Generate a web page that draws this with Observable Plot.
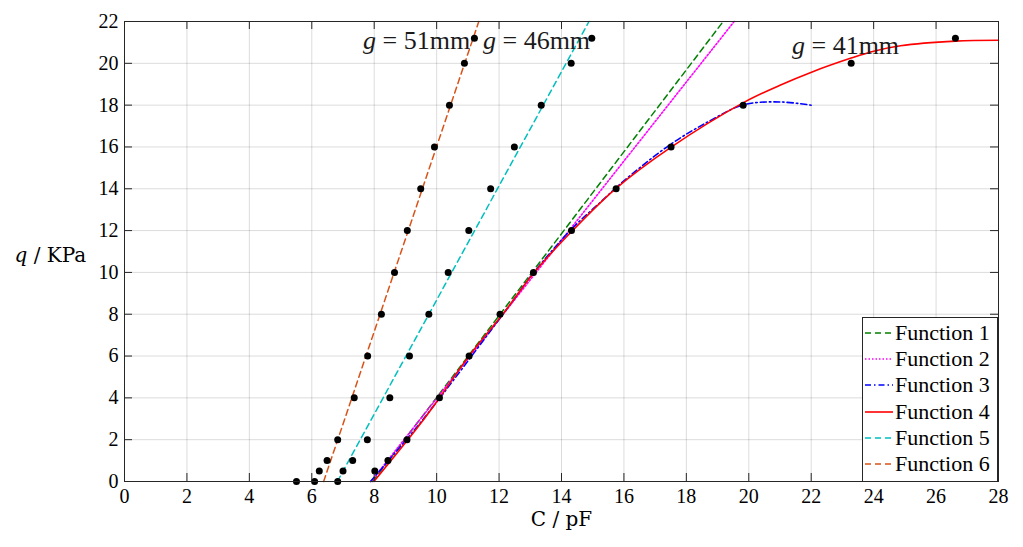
<!DOCTYPE html>
<html><head><meta charset="utf-8">
<script src="https://cdn.jsdelivr.net/npm/d3@7"></script>
<script src="https://cdn.jsdelivr.net/npm/@observablehq/plot@0.6"></script>
<style>
body{margin:0;background:#fff;}
#wrap{position:relative;width:1023px;height:547px;}
.legend{position:absolute;left:862px;top:317px;width:136px;height:165px;border:1px solid #262626;background:#fff;box-sizing:border-box;font-family:"Liberation Serif",serif;font-size:22px;color:#000;padding-top:2px;}
.row{display:flex;align-items:center;height:26.2px;white-space:nowrap;}
.row svg{margin-left:2px;margin-right:2px;flex:none;}
</style></head><body><div id="wrap"></div>
<script>
// ---- tick values ----
const xTicks = [0, 2, 4, 6, 8, 10, 12, 14, 16, 18, 20, 22, 24, 26, 28];
const yTicks = [0, 2, 4, 6, 8, 10, 12, 14, 16, 18, 20, 22];

// ---- measured points ----
const c51 = [5.51, 6.24, 6.49, 6.83, 7.36, 7.79, 8.23, 8.65, 9.06, 9.49, 9.93, 10.41, 10.89, 11.21];
const q51 = [0, 0.5, 1, 2, 4, 6, 8, 10, 12, 14, 16, 18, 20, 21.2];
const c46 = [6.09, 7.0, 7.31, 7.78, 8.50, 9.13, 9.75, 10.37, 11.03, 11.73, 12.49, 13.35, 14.31, 14.97];
const q46 = [0, 0.5, 1, 2, 4, 6, 8, 10, 12, 14, 16, 18, 20, 21.2];
const c41 = [6.83, 8.02, 8.44, 9.05, 10.09, 11.04, 12.03, 13.1, 14.32, 15.75, 17.51, 19.82, 23.28, 26.62];
const q41 = [0, 0.5, 1, 2, 4, 6, 8, 10, 12, 14, 16, 18, 20, 21.2];

// ---- fitted functions ----
const f1C = [7.95, 19.18];            const f1Q = [0, 22];
const f2C = [7.9, 19.53];             const f2Q = [0, 22];
const f3C = [7.88, 9.5, 12.2, 13.1, 14.34, 15.25, 15.89, 17.49, 18.78, 19.84, 21.02, 22.03];
const f3Q = [0, 2.85, 8.15, 9.97, 12.1, 13.36, 14.24, 16.12, 17.27, 18.02, 18.15, 17.99];
const f4C = [7.99, 9.48, 10.09, 11.04, 12.21, 13.11, 14.34, 15.73, 17.49, 19.83, 21.0, 22.05, 23.28, 24.0, 24.86, 26.62, 28];
const f4Q = [0, 2.76, 4.0, 6.0, 8.18, 9.97, 11.98, 14.0, 15.97, 18.12, 18.95, 19.6, 20.25, 20.58, 20.84, 21.06, 21.1];
const f5C = [6.82, 14.88];            const f5Q = [0, 22];
const f6C = [6.38, 11.35];            const f6Q = [0, 22];

// ---- annotations ----
const annText = ["g = 51mm", "g = 46mm", "g = 41mm"];
const annC = [9.36, 13.2, 23.1];
const annQ = [21.1, 21.1, 20.85];

const legendNames = ["Function 1", "Function 2", "Function 3", "Function 4", "Function 5", "Function 6"];

const zip = (cs, qs) => cs.map((c, i) => ({C: c, q: qs[i]}));
const pts = [...zip(c51, q51), ...zip(c46, q46), ...zip(c41, q41)];
const ann = annText.map((t, i) => ({t, C: annC[i], q: annQ[i]}));

const styles = [
  {stroke: "#008000", dash: "6,4", w: 1.5},
  {stroke: "#ff00ff", dash: "1.5,2", w: 1.6},
  {stroke: "#0000ff", dash: "6,3,1.5,3", w: 1.6},
  {stroke: "#ff0000", dash: null, w: 1.6},
  {stroke: "#00bfbf", dash: "6,4", w: 1.5},
  {stroke: "#d95319", dash: "6,4", w: 1.5}
];
const fData = [zip(f1C, f1Q), zip(f2C, f2Q), zip(f3C, f3Q), zip(f4C, f4Q), zip(f5C, f5Q), zip(f6C, f6Q)];
const curveFor = i => (i === 2 || i === 3) ? "catmull-rom" : "linear";

const frameStroke = "#262626";
const innerTicksX = xTicks.slice(1, -1);
const innerTicksY = yTicks.slice(1, -1);
const labelFont = "'DejaVu Serif', serif";

const chart = Plot.plot({
  width: 1023,
  height: 547,
  marginLeft: 124,
  marginRight: 25,
  marginTop: 21,
  marginBottom: 66,
  style: {fontFamily: "'Liberation Serif', serif", fontSize: "20px", color: "#000", background: "#fff"},
  x: {domain: [0, 28]},
  y: {domain: [0, 22]},
  marks: [
    Plot.gridX({ticks: xTicks, stroke: "#000", strokeOpacity: 0.14}),
    Plot.gridY({ticks: yTicks, stroke: "#000", strokeOpacity: 0.14}),
    ...fData.map((d, i) => Plot.line(d, {x: "C", y: "q", stroke: styles[i].stroke, strokeWidth: styles[i].w,
      strokeDasharray: styles[i].dash, curve: curveFor(i)})),
    Plot.dot(pts, {x: "C", y: "q", r: 3.5, fill: "#000", stroke: "none"}),
    Plot.frame({stroke: frameStroke, strokeWidth: 1}),
    Plot.ruleX(innerTicksX, {x: d => d, insetTop: 452, stroke: frameStroke}),
    Plot.ruleX(innerTicksX, {x: d => d, insetBottom: 452, stroke: frameStroke}),
    Plot.ruleY(innerTicksY, {y: d => d, insetRight: 866, stroke: frameStroke}),
    Plot.ruleY(innerTicksY, {y: d => d, insetLeft: 866, stroke: frameStroke}),
    Plot.axisX({ticks: xTicks, tickSize: 0, tickPadding: 7, fontSize: 20, label: null}),
    Plot.axisY({ticks: yTicks, tickSize: 0, tickPadding: 6, fontSize: 20, label: null}),
    Plot.text(ann, {x: "C", y: "q", text: "t", fontSize: 26, fill: "#1a1a1a", textAnchor: "middle"}),
    Plot.text(["C / pF"], {frameAnchor: "bottom", dy: 44, fontSize: 20, fontFamily: labelFont, textAnchor: "middle"}),
    Plot.text(["q / KPa"], {frameAnchor: "left", dx: -110, dy: 4, fontSize: 20, fontFamily: labelFont, textAnchor: "start"})
  ]
});

// italicise the math variable letters
d3.select(chart).selectAll("text").each(function() {
  const el = d3.select(this);
  const s = this.textContent;
  if (this.children.length) return;
  if (/^g = /.test(s) || /^q \//.test(s)) {
    el.text(null);
    el.append("tspan").attr("font-style", "italic").text(s[0]);
    el.append("tspan").text(s.slice(1));
  }
});

const wrap = document.getElementById("wrap");
wrap.appendChild(chart);

// legend
const leg = document.createElement("div");
leg.className = "legend";
legendNames.forEach((name, i) => {
  const row = document.createElement("div");
  row.className = "row";
  const st = styles[i];
  row.innerHTML = `<svg width="28" height="10"><line x1="0" y1="5" x2="28" y2="5" stroke="${st.stroke}" stroke-width="${st.w}" ${st.dash ? `stroke-dasharray="${st.dash}"` : ""}/></svg><span>${name}</span>`;
  leg.appendChild(row);
});
wrap.appendChild(leg);
</script>
</body></html>
